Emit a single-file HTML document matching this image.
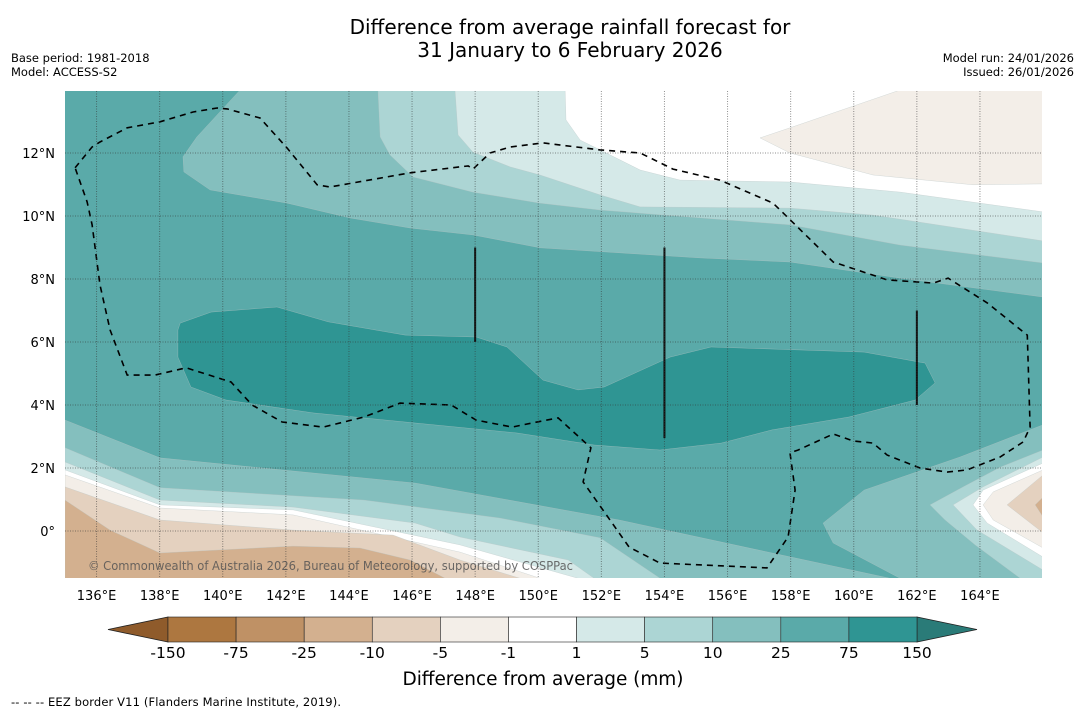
<!DOCTYPE html>
<html><head><meta charset="utf-8"><style>
body{margin:0;background:#fff;}
svg{display:block;font-family:"DejaVu Sans","Liberation Sans",sans-serif;}
</style></head><body>
<svg id="chart" width="1085" height="713" viewBox="0 0 1085 713">
<text x="570" y="34" text-anchor="middle" font-size="20">Difference from average rainfall forecast for</text>
<text x="570" y="57" text-anchor="middle" font-size="20">31 January to 6 February 2026</text>
<text x="11" y="62" font-size="11.5">Base period: 1981-2018</text>
<text x="11" y="76" font-size="11.5">Model: ACCESS-S2</text>
<text x="1074" y="62" text-anchor="end" font-size="11.5">Model run: 24/01/2026</text>
<text x="1074" y="76" text-anchor="end" font-size="11.5">Issued: 26/01/2026</text>
<defs><clipPath id="mapclip"><rect x="65" y="91" width="977" height="487"/></clipPath></defs>
<g id="map" clip-path="url(#mapclip)"></g>
<g id="grid"></g>
<g id="axes"></g>
<g id="cbar"></g>
<text x="543" y="685" text-anchor="middle" font-size="18.5" textLength="281">Difference from average (mm)</text>
<text x="11" y="706" font-size="11.5" textLength="330">--  --  -- EEZ border V11 (Flanders Marine Institute, 2019).</text>
</svg>
<script>
const NS="http://www.w3.org/2000/svg";
// colour levels
const levelLabels=["-150","-75","-25","-10","-5","-1","1","5","10","25","75","150"];
const levelColors=["#ad7740","#bf9165","#d3b08f","#e4d1bf","#f3eee8","#ffffff","#d5e9e8","#acd5d4","#84bfbe","#5aaaa9","#2f9593"];
const extendLow="#8f5b2b", extendHigh="#2a7b78";
const lonTicks=[136,138,140,142,144,146,148,150,152,154,156,158,160,162,164];
const latTicks=[0,2,4,6,8,10,12];
// contour regions [lon,lat]
const northLe25=[[140.55,14],[139.18,12.51],[138.74,11.88],[138.77,11.4],[139.6,10.83],[142.04,10.41],[144.03,9.94],[145.94,9.62],[147.93,9.4],[150.06,8.99],[155.13,8.67],[157.98,8.54],[161.47,8.03],[166,7.43],[166,14]];
const northLe10=[[144.92,14],[144.99,12.51],[145.3,11.94],[146.03,11.24],[147.93,10.76],[150.06,10.41],[151.96,10.19],[157.98,9.72],[161.47,9.08],[166,8.51],[166,14]];
const northLe5=[[147.36,14],[147.46,12.57],[147.93,12.03],[149.11,11.56],[150.06,11.3],[151.96,10.67],[153.23,10.29],[157.98,10.25],[160.61,10.03],[166,9.21],[166,14]];
const northLe1=[[150.85,14],[150.88,13.05],[151.33,12.41],[151.96,12.1],[153.23,11.46],[154.5,11.14],[157.98,11.08],[161.47,10.76],[166,10.13],[166,14]];
const northLeM1=[[157.03,12.48],[157.98,12.8],[161.47,14],[166,14],[166,11.02],[163.78,10.99],[160.61,11.3],[157.98,12.0]];
const coreGe75=[[138.58,6.38],[138.65,6.6],[139.63,6.95],[141.72,7.11],[143.34,6.64],[145.78,6.22],[148.03,6.16],[149.01,5.84],[150.15,4.79],[151.26,4.48],[152.09,4.57],[154.18,5.52],[155.48,5.84],[160.33,5.68],[162.26,5.33],[162.58,4.7],[161.95,4.16],[159.85,3.62],[157.41,3.21],[155.8,2.79],[153.86,2.57],[151.77,2.73],[149.33,3.11],[146.1,3.43],[142.86,3.75],[140.1,4.16],[138.99,4.57],[138.58,5.52]];
const southLe25=[[135,3.52],[138.01,2.32],[146.1,1.52],[152.56,0.35],[157.41,-0.7],[161.15,-1.5],[135,-1.5]];
const eastLe25=[[161.47,-1.5],[159.35,-0.38],[159.03,0.25],[160.33,1.3],[163.37,2.35],[166,3.37],[166,-1.5]];
const southLe10=[[135,2.64],[138.01,1.37],[144.48,0.98],[148.79,0.41],[151.96,-0.22],[153.86,-1.5],[135,-1.5]];
const southLe5=[[135,2.19],[138.01,0.98],[142.23,0.76],[146.1,0.25],[147.52,-0.19],[150.95,-0.92],[151.77,-1.5],[135,-1.5]];
const southLe1=[[135,1.94],[138.01,0.83],[142.23,0.67],[147.52,-0.44],[151.26,-1.5],[135,-1.5]];
const southLeM1=[[135,1.78],[138.01,0.73],[142.23,0.51],[147.52,-0.67],[150.06,-1.5],[135,-1.5]];
const southLeM5=[[135,1.4],[138.01,0.35],[142.23,0.03],[145.4,-0.13],[147.52,-0.92],[149.42,-1.5],[135,-1.5]];
const southLeM10=[[135,0.98],[136.43,0.03],[138.01,-0.7],[142.23,-0.48],[144.35,-0.54],[145.94,-0.92],[147.05,-1.5],[135,-1.5]];
const eastLe10=[[166,2.57],[164.65,2.03],[163.47,1.4],[162.42,0.83],[162.9,0.35],[163.85,-0.44],[165.28,-1.5],[166,-1.5]];
const eastLe5=[[166,2.35],[164.1,1.4],[163.15,0.83],[163.91,0.03],[166,-1.24]];
const eastLe1=[[166,2.16],[164.1,1.3],[163.78,0.83],[164.23,0.25],[166,-0.83]];
const eastLeM1=[[166,1.94],[164.42,1.24],[164.1,0.83],[164.42,0.35],[166,-0.54]];
const eastLeM5=[[166,1.78],[164.86,0.83],[166,-0.06]];
const eastLeM10=[[166,1.08],[165.75,0.83],[166,0.44]];
const eez=[[135.32,11.53],[135.86,12.19],[136.11,12.35],[136.97,12.8],[138.01,12.99],[139.06,13.3],[139.82,13.43],[140.14,13.4],[141.18,13.11],[142.04,12.16],[142.99,10.99],[143.4,10.92],[145.94,11.37],[147.78,11.59],[147.93,11.49],[148.47,12.0],[149.11,12.19],[150.15,12.32],[151.96,12.1],[153.23,12.0],[154.27,11.49],[155.76,11.14],[157.44,10.41],[157.89,9.97],[159.35,8.54],[161.06,7.97],[162.52,7.87],[162.99,8.03],[164.23,7.24],[165.5,6.22],[165.59,3.3],[165.37,2.83],[164.64,2.35],[163.59,1.94],[162.96,1.87],[162.1,2.0],[161.06,2.41],[160.61,2.79],[159.98,2.86],[159.35,3.08],[158.24,2.57],[157.98,2.48],[158.14,1.3],[157.92,-0.19],[157.25,-1.17],[153.86,-1.02],[152.88,-0.51],[151.42,1.56],[151.67,2.64],[150.63,3.59],[149.8,3.43],[149.17,3.3],[148.03,3.52],[147.24,4.0],[145.62,4.06],[144.48,3.62],[143.18,3.3],[141.88,3.46],[140.93,4.0],[140.26,4.73],[138.84,5.18],[137.85,4.95],[136.97,4.95],[136.43,6.38],[136.11,7.81],[135.86,9.72],[135.7,10.45],[135.32,11.53]];
const boundaryLon=[148,154,162];
const boundaryLatTop=[9,9,7];
const boundaryLatBottom=[6,2.95,4];

const X=lon=>65+(lon-135)*31.55;
const Y=lat=>531-lat*31.5;
const pts=a=>a.map(p=>X(p[0]).toFixed(1)+","+Y(p[1]).toFixed(1)).join(" ");
const map=document.getElementById("map");
function mk(tag,attrs,parent){const e=document.createElementNS(NS,tag);for(const k in attrs)e.setAttribute(k,attrs[k]);parent.appendChild(e);return e;}
const bg=mk("rect",{x:65,y:91,width:977,height:487,fill:levelColors[9]},map);


const regions=[
 [northLe25,8,"north-band-10-25"],[northLe10,7,"north-band-5-10"],[northLe5,6,"north-band-1-5"],[northLe1,5,"north-band-neutral"],[northLeM1,4,"north-band-minus5-minus1"],
 [coreGe75,10,"core-band-75-150"],
 [southLe25,8,"south-band-10-25"],[eastLe25,8,"east-band-10-25"],[southLe10,7,"south-band-5-10"],[southLe5,6,"south-band-1-5"],[southLe1,5,"south-band-neutral"],[southLeM1,4,"south-band-minus5-minus1"],[southLeM5,3,"south-band-minus10-minus5"],[southLeM10,2,"south-band-minus25-minus10"],
 [eastLe10,7,"east-band-5-10"],[eastLe5,6,"east-band-1-5"],[eastLe1,5,"east-band-neutral"],[eastLeM1,4,"east-band-minus5-minus1"],[eastLeM5,3,"east-band-minus10-minus5"],[eastLeM10,2,"east-band-minus25-minus10"]];
regions.forEach(r=>{
 const p=mk("polygon",{points:pts(r[0]),fill:levelColors[r[1]],stroke:"#b9c4c4","stroke-width":0.5,"stroke-opacity":0.6},map);
 
 
});
const eezLine=mk("polyline",{points:pts(eez),fill:"none",stroke:"#000","stroke-width":1.6,"stroke-dasharray":"6,5"},map);


boundaryLon.forEach((lon,i)=>{
 const l=mk("line",{x1:X(lon),x2:X(lon),y1:Y(boundaryLatTop[i]),y2:Y(boundaryLatBottom[i]),stroke:"#111","stroke-width":2},map);
 
 
});
const cr=mk("text",{x:88,y:570,"font-size":12,fill:"#555","fill-opacity":0.85,textLength:485,lengthAdjust:"spacingAndGlyphs"},map);
cr.textContent="© Commonwealth of Australia 2026, Bureau of Meteorology, supported by COSPPac";



const grid=document.getElementById("grid"), axes=document.getElementById("axes");
lonTicks.forEach(lon=>{
 const g=mk("line",{x1:X(lon),x2:X(lon),y1:91,y2:578,stroke:"#333","stroke-opacity":0.55,"stroke-width":1,"stroke-dasharray":"1,1.5"},grid);
 
 
 const t=mk("text",{x:X(lon),y:600,"text-anchor":"middle","font-size":13},axes);
 t.textContent=lon+"°E";
 
 
});
latTicks.forEach(lat=>{
 const g=mk("line",{x1:65,x2:1042,y1:Y(lat),y2:Y(lat),stroke:"#333","stroke-opacity":0.55,"stroke-width":1,"stroke-dasharray":"1,1.5"},grid);
 
 
 const t=mk("text",{x:55,y:Y(lat)+5,"text-anchor":"end","font-size":13},axes);
 t.textContent=lat===0?"0°":lat+"°N";
 
 
});

const cb=document.getElementById("cbar");
const cx0=168,cw=(917-168)/levelColors.length,cy=617,ch=25;
const lo=mk("polygon",{points:`${cx0},${cy} ${cx0},${cy+ch} 108,${cy+ch/2}`,fill:extendLow,stroke:"#222","stroke-width":0.8},cb);


const hi=mk("polygon",{points:`917,${cy} 917,${cy+ch} 977,${cy+ch/2}`,fill:extendHigh,stroke:"#222","stroke-width":0.8},cb);


levelColors.forEach((c,i)=>{
 const r=mk("rect",{x:cx0+i*cw,y:cy,width:cw,height:ch,fill:c,stroke:"#222","stroke-width":0.6},cb);
 
 
});
levelLabels.forEach((s,i)=>{
 const t=mk("text",{x:cx0+i*cw,y:658,"text-anchor":"middle","font-size":15.5},cb);
 t.textContent=s;
 
 
});
</script>
</body></html>
